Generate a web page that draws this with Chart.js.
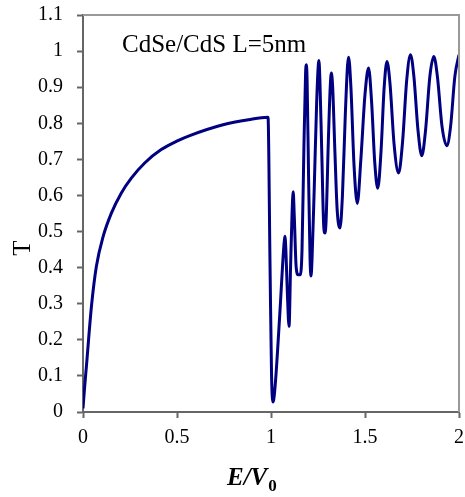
<!DOCTYPE html>
<html>
<head>
<meta charset="utf-8">
<script src="https://cdn.jsdelivr.net/npm/chart.js@4/dist/chart.umd.min.js"></script>
<style>
  body { margin: 0; background: #fff; }
  #wrap { position: relative; width: 465px; height: 497px; }
</style>
</head>
<body>
<div id="wrap"><canvas id="canvasT"></canvas></div>
<script>
// E/V0 and transmission T
const energy = [
    0, 0.009, 0.018, 0.045, 0.071, 0.107, 0.151, 0.204, 0.257, 0.328, 0.416, 0.505, 0.568, 0.745, 0.88, 0.984,
    0.995, 1.003, 1.011, 1.020, 1.035, 1.050, 1.062, 1.070, 1.074, 1.079, 1.087, 1.096,
    1.104, 1.112, 1.118, 1.124, 1.134, 1.145, 1.156,
    1.165, 1.175, 1.184, 1.188, 1.192, 1.200, 1.208, 1.213, 1.218,
    1.230, 1.243, 1.255, 1.260, 1.270, 1.280, 1.287, 1.293,
    1.305, 1.315, 1.321, 1.328, 1.340, 1.352, 1.367,
    1.380, 1.395, 1.407, 1.413, 1.425, 1.442, 1.459,
    1.478, 1.500, 1.519, 1.535, 1.552, 1.568,
    1.585, 1.602, 1.617, 1.633, 1.655, 1.679,
    1.700, 1.722, 1.742, 1.760, 1.782, 1.802,
    1.822, 1.845, 1.866, 1.885, 1.910, 1.935,
    1.955, 1.978, 2.0
]
const transmission = [
    0.01, 0.071, 0.126, 0.293, 0.403, 0.486, 0.551, 0.607, 0.648, 0.69, 0.727, 0.752, 0.766, 0.796, 0.810, 0.817,
    0.40, 0.10, 0.028, 0.06, 0.17, 0.30, 0.41, 0.47, 0.487, 0.45, 0.33, 0.237,
    0.40, 0.55, 0.61, 0.54, 0.40, 0.38, 0.38,
    0.45, 0.73, 0.94, 0.962, 0.92, 0.65, 0.42, 0.377, 0.42,
    0.62, 0.86, 0.974, 0.92, 0.72, 0.52, 0.496, 0.53,
    0.75, 0.90, 0.939, 0.90, 0.72, 0.56, 0.51,
    0.60, 0.82, 0.96, 0.983, 0.90, 0.68, 0.578,
    0.70, 0.88, 0.953, 0.86, 0.69, 0.62,
    0.72, 0.90, 0.971, 0.91, 0.74, 0.662,
    0.75, 0.92, 0.99, 0.93, 0.78, 0.71,
    0.78, 0.93, 0.985, 0.93, 0.79, 0.738,
    0.79, 0.93, 0.99
]

const xTickValues = [0, 0.5, 1, 1.5, 2]
const yTickValues = [0, 0.1, 0.2, 0.3, 0.4, 0.5, 0.6, 0.7, 0.8, 0.9, 1, 1.1]

const noteText = "CdSe/CdS L=5nm"
const serif = "'Liberation Serif', 'Times New Roman', serif"

// frame, note and axis titles, straight on the canvas
const decorations = {
    id: "decorations",
    afterDraw: chart => {
        const { ctx, chartArea: a } = chart
        ctx.save()
        ctx.strokeStyle = "#999"
        ctx.lineWidth = 2
        ctx.beginPath()
        ctx.moveTo(a.left, a.top)
        ctx.lineTo(a.right, a.top)
        ctx.lineTo(a.right, a.bottom)
        ctx.stroke()

        ctx.fillStyle = "#000"
        ctx.textBaseline = "alphabetic"
        ctx.font = `25px ${serif}`
        ctx.fillText(noteText, 122, 52)

        ctx.save()
        ctx.translate(30, 248)
        ctx.rotate(-Math.PI / 2)
        ctx.textAlign = "center"
        ctx.fillText("T", 0, 0)
        ctx.restore()

        ctx.font = `italic bold 25px ${serif}`
        ctx.fillText("E/V", 227, 485)
        let w = ctx.measureText("E/V").width
        ctx.font = `bold 17px ${serif}`
        ctx.fillText("0", 227 + w + 1, 491)
        ctx.restore()
    }
}

const tickFont = { family: serif, size: 20 }

new Chart(document.getElementById("canvasT"), {
    type: "line",
    data: {
        datasets: [{
            data: energy.map((e, i) => ({ x: e, y: transmission[i] })),
            borderColor: "#000080",
            borderWidth: 3,
            pointRadius: 0,
            cubicInterpolationMode: "monotone",
            fill: false
        }]
    },
    options: {
        responsive: true,
        maintainAspectRatio: false,
        animation: false,
        layout: { padding: { top: 15, right: 6, left: 0, bottom: 0 } },
        plugins: { legend: { display: false }, tooltip: { enabled: false } },
        scales: {
            x: {
                type: "linear",
                min: 0,
                max: 2,
                afterBuildTicks: scale => { scale.ticks = xTickValues.map(value => ({ value })) },
                afterFit: scale => {
                    scale.height = 85
                    scale.paddingLeft = 0
                    scale.paddingRight = 0
                },
                ticks: { callback: v => String(v), font: tickFont, color: "#000", padding: 8, maxRotation: 0, autoSkip: false },
                grid: { drawOnChartArea: false, tickLength: 6, tickColor: "#666", tickWidth: 2 },
                border: { color: "#666", width: 2 }
            },
            y: {
                min: 0,
                max: 1.1,
                afterBuildTicks: scale => { scale.ticks = yTickValues.map(value => ({ value })) },
                afterFit: scale => {
                    scale.width = 83
                    scale.paddingTop = 0
                    scale.paddingBottom = 0
                },
                ticks: { callback: v => String(v), font: tickFont, color: "#000", padding: 14, autoSkip: false },
                grid: { drawOnChartArea: false, tickLength: 6, tickColor: "#666", tickWidth: 2 },
                border: { color: "#666", width: 2 }
            }
        }
    },
    plugins: [decorations]
})
</script>
</body>
</html>
